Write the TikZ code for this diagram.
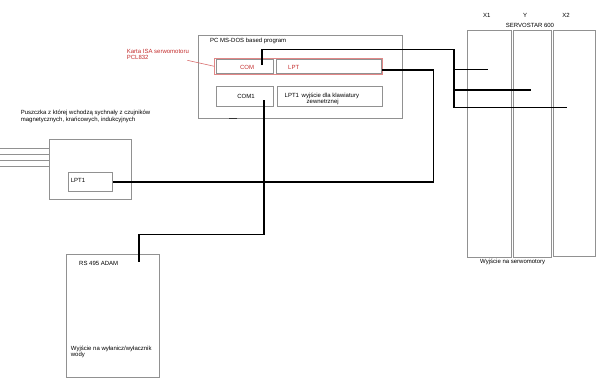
\documentclass[tikz,border=0pt]{standalone}
\usepackage{fontspec}
\setmainfont{Liberation Sans}
\usepackage{xcolor}

\definecolor{framegray}{RGB}{145,145,145}
\definecolor{cardred}{RGB}{225,135,135}
\definecolor{notered}{RGB}{195,45,45}

\begin{document}
\begin{tikzpicture}[
    x=1pt,y=-1pt,
    font=\fontsize{6}{6.5}\selectfont,
    box/.style={draw=framegray,line width=0.8pt,inner sep=0pt,outer sep=0pt,anchor=north west},
    card/.style={draw=cardred,line width=0.8pt,inner sep=0pt,outer sep=0pt,anchor=north west},
    wire/.style={draw=black,line width=1.6pt},
    inputline/.style={draw=framegray,line width=0.7pt},
    label/.style={inner sep=0pt,anchor=west,align=left}
]
\useasboundingbox (0,0) rectangle (600,383);

% PC with the ISA card and its ports.
\node[box,minimum width=204pt,minimum height=83pt] (pc) at (198,35) {};
\node[card,minimum width=168.4pt,minimum height=16pt] (isa) at (214.3,58.3) {};
\node[box,minimum width=57.3pt,minimum height=14pt] (com) at (216,59.3) {};
\node[box,minimum width=105pt,minimum height=14pt] (lpt) at (276.7,59.3) {};
\node[box,minimum width=57.3pt,minimum height=20.7pt] (comone) at (216,86) {};
\node[box,minimum width=104.7pt,minimum height=20.7pt] (lptone) at (277.3,86) {};
\draw[black!80,line width=1pt] (229.3,118.6) -- (236.7,118.6);

\node[label] (pctitle) at (210,41) {PC MS-DOS based program};
\node[inner sep=0pt,text=notered] (comtext) at (247,67) {COM};
\node[label,text=notered] (lpttext) at (288,67) {LPT};
\node[inner sep=0pt] (comonetext) at (246,96) {COM1};
\node[label] (lptonetext) at (284.5,95.7) {LPT1};
\node[label] (keyboard) at (301.5,99) {wyjście dla klawiatury\\\hspace*{5pt}zewnetrznej};

% Label of the card with its pointer.
\node[label,text=notered] (isalabel) at (126.7,54.3) {Karta ISA serwomotoru\\PCL832};
\coordinate (pointer) at (187.3,60.3);
\draw[cardred!70!notered,line width=0.6pt] (pointer) -- (isa.west);

% Switch box with the sensor inputs.
\node[label] (switchlabel) at (20.7,116.2) {Puszczka z której wchodzą sychnały z czujników\\magnetycznych, krańcowych, indukcyjnych};
\node[box,minimum width=82.4pt,minimum height=60pt] (puszka) at (49.3,139) {};
\node[box,minimum width=44.4pt,minimum height=19.4pt] (lptsw) at (68.3,172.3) {};
\node[label] (lptswtext) at (70.7,180.5) {LPT1};
\foreach \row in {148.5,154.5,160.8,166.7}{
    \draw[inputline] (0,\row) -- (puszka.west |- 0,\row);
}

% RS 495 ADAM module.
\node[box,minimum width=93pt,minimum height=123pt] (adam) at (66,254.5) {};
\node[label] (adamtext) at (79,263.3) {RS 495 ADAM};
\node[label] (watertext) at (70.7,351.7) {Wyjście na wyłanicz/wyłacznik\\wody};

% Servo amplifier with three axes.
\node[box,minimum width=44.4pt,minimum height=227pt] (xone) at (467.3,30.7) {};
\node[box,minimum width=38.7pt,minimum height=226.6pt] (yaxis) at (513,30.7) {};
\node[box,minimum width=42pt,minimum height=225.6pt] (xtwo) at (553.3,30.7) {};
\node[inner sep=0pt] (xonetext) at (486.7,15.7) {X1};
\node[inner sep=0pt] (ytext) at (525,15.3) {Y};
\node[inner sep=0pt] (xtwotext) at (566,15.3) {X2};
\node[inner sep=0pt] (servotext) at (530,25) {SERVOSTAR 600};
\node[inner sep=0pt] (motortext) at (512.7,262.3) {Wyjście na serwomotory};

% COM port to the three servo axes.
\coordinate (comport) at (262,65);
\coordinate (bus) at (454,49.5);
\coordinate (xoneport) at (488,69.5);
\coordinate (yport) at (531,90);
\coordinate (xtwoport) at (567,107.5);
\draw[wire] (comport) |- (bus) |- (xtwoport);
\draw[wire] (bus |- xoneport) -- (xoneport);
\draw[wire] (bus |- yport) -- (yport);

% LPT port to the switch box.
\coordinate (lptport) at (382,70);
\coordinate (lptbend) at (433.5,70);
\draw[wire] (lptport) -- (lptbend) |- (lptsw.east);

% COM1 port to the ADAM module.
\coordinate (comoneport) at (264,100);
\coordinate (comonebend) at (264,234.3);
\coordinate (adamport) at (139,261.7);
\draw[wire] (comoneport) -- (comonebend) -| (adamport);
\end{tikzpicture}
\end{document}
